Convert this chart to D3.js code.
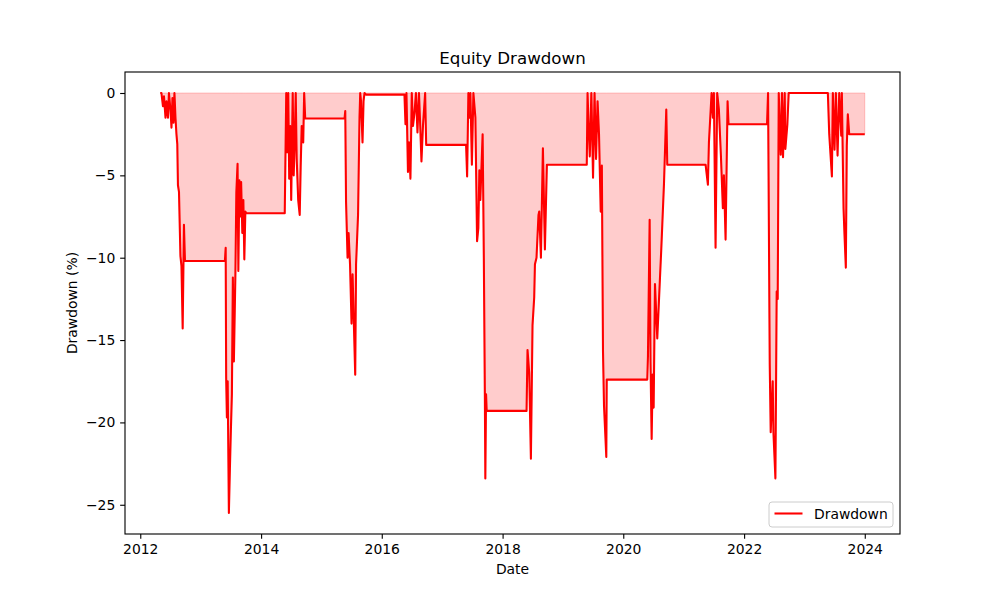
<!DOCTYPE html>
<html>
<head>
<meta charset="utf-8">
<script src="https://cdn.jsdelivr.net/npm/d3@7/dist/d3.min.js"></script>
<style>
  body { margin: 0; background: #fff; }
  text { font-family: "DejaVu Sans", sans-serif; }
</style>
</head>
<body>
<div id="chart"></div>
<script>
// decimal years
const years = [
  2012.330, 2012.350, 2012.375, 2012.392, 2012.417, 2012.433, 2012.458, 2012.474, 2012.499, 2012.516,
  2012.532, 2012.549, 2012.565, 2012.582, 2012.598, 2012.612, 2012.623, 2012.640, 2012.664, 2012.681,
  2012.701, 2012.722, 2012.739, 2013.400, 2013.413, 2013.421, 2013.433, 2013.446, 2013.466, 2013.483,
  2013.499, 2013.516, 2013.532, 2013.549, 2013.574, 2013.590, 2013.610, 2013.623, 2013.640, 2013.656,
  2013.669, 2013.689, 2013.706, 2013.722, 2013.739, 2013.755, 2014.392, 2014.417, 2014.433, 2014.450,
  2014.466, 2014.483, 2014.499, 2014.524, 2014.540, 2014.557, 2014.574, 2014.590, 2014.615, 2014.640,
  2014.656, 2014.673, 2014.698, 2014.714, 2014.731, 2015.383, 2015.395, 2015.408, 2015.433, 2015.450,
  2015.474, 2015.499, 2015.516, 2015.560, 2015.574, 2015.607, 2015.631, 2015.643, 2015.656, 2015.681,
  2015.698, 2015.714, 2015.742, 2016.375, 2016.392, 2016.408, 2016.433, 2016.450, 2016.474, 2016.496,
  2016.516, 2016.541, 2016.565, 2016.590, 2016.615, 2016.631, 2016.656, 2016.681, 2016.717, 2016.734,
  2017.395, 2017.412, 2017.433, 2017.450, 2017.466, 2017.491, 2017.516, 2017.549, 2017.577, 2017.598,
  2017.615, 2017.631, 2017.669, 2017.689, 2017.706, 2017.714, 2017.726, 2017.736, 2018.397, 2018.413,
  2018.441, 2018.469, 2018.496, 2018.524, 2018.536, 2018.562, 2018.595, 2018.607, 2018.635, 2018.668,
  2018.701, 2018.734, 2019.395, 2019.408, 2019.425, 2019.445, 2019.471, 2019.499, 2019.524, 2019.549,
  2019.574, 2019.598, 2019.626, 2019.645, 2019.664, 2019.681, 2019.719, 2019.726, 2020.397, 2020.408,
  2020.436, 2020.450, 2020.469, 2020.486, 2020.502, 2020.524, 2020.562, 2020.607, 2020.628, 2020.645,
  2020.673, 2020.711, 2020.727, 2021.362, 2021.400, 2021.417, 2021.461, 2021.483, 2021.499, 2021.527,
  2021.554, 2021.582, 2021.615, 2021.648, 2021.665, 2021.693, 2021.726, 2021.742, 2022.380, 2022.397,
  2022.420, 2022.425, 2022.441, 2022.474, 2022.486, 2022.519, 2022.540, 2022.557, 2022.574, 2022.607,
  2022.628, 2022.645, 2022.673, 2022.684, 2022.717, 2022.739, 2023.388, 2023.411, 2023.455, 2023.471,
  2023.499, 2023.521, 2023.549, 2023.577, 2023.610, 2023.620, 2023.648, 2023.664, 2023.686, 2023.702,
  2023.719, 2023.742, 2024.000
];

// drawdown in percent, same order as years
const drawdown = [
  0, 0, -0.8, -0.2, -1.5, -0.5, -1.5, 0, -1.0, -2.1,
  -0.3, -1.8, 0, -1.5, -2.5, -3.1, -5.6, -6.0, -9.9, -10.5,
  -14.3, -8.0, -10.2, -10.2, -9.4, -17.3, -19.7, -17.5, -25.5, -22.8,
  -20.5, -18.3, -11.2, -16.3, -11.0, -6.0, -4.3, -10.8, -5.3, -7.5,
  -5.4, -8.5, -6.5, -10.1, -7.2, -7.3, -7.3, 0, -3.6, 0,
  -5.2, -2.0, -6.5, 0, -5.0, -3.0, 0, -4.0, -6.5, -7.4,
  -4.5, -2.0, -3.0, 0, -1.55, -1.55, -1.1, -6.6, -10.0, -8.5,
  -10.4, -14.0, -11.0, -17.1, -10.4, -7.4, -1.5, 0, -0.5, -3.0,
  -0.5, 0, -0.1, -0.1, -1.9, 0, -4.8, -3.0, -5.2, 0,
  -2.0, -1.2, 0, -2.4, 0, -1.5, -4.15, -2.0, 0, -3.15,
  -3.15, -5.07, 0, -1.5, 0, -4.35, 0, -1.5, -9.0, -8.2,
  -4.7, -6.5, -2.5, -10.0, -18.3, -23.4, -18.3, -19.3, -19.3, -15.6,
  -17.0, -22.2, -14.1, -12.4, -10.4, -10.0, -7.4, -7.2, -10.0, -3.35,
  -9.5, -4.36, -4.36, 0, -2.0, -3.85, 0, -5.15, 0, -4.0,
  -0.5, -2.5, -7.2, -4.4, -15.7, -19.0, -22.1, -17.4, -17.4, -16.0,
  -7.7, -16.3, -21.0, -17.1, -19.1, -11.6, -14.9, -11.2, -9.5, -8.0,
  -5.5, -1.0, -4.36, -4.36, -5.57, -3.0, 0, -1.5, 0, -9.4,
  0, -1.0, -3.75, -7.0, -5.0, -8.9, -0.5, -1.9, -1.9, 0,
  -13.7, -16.5, -20.6, -17.5, -20.6, -23.4, -12.05, -12.5, 0, -3.75,
  0, -3.9, 0, -3.4, -1.9, 0, 0, -2.5, -5.07, 0,
  -3.45, 0, -3.8, 0, -2.6, 0, -7.0, -8.6, -10.6, -3.2,
  -1.3, -2.5, -2.5
];

const yTicks = [0, -5, -10, -15, -20, -25];
const xTickYears = [2012, 2014, 2016, 2018, 2020, 2022, 2024];

const chartTitle = 'Equity Drawdown';
const xLabel = 'Date';
const yLabel = 'Drawdown (%)';
const seriesName = 'Drawdown';

// decimal year -> Date
const toDate = (y) => {
  const yr = Math.floor(y);
  const start = new Date(yr, 0, 1);
  const end = new Date(yr + 1, 0, 1);
  return new Date(+start + (y - yr) * (end - start));
};

const data = years.map((y, i) => ({x: toDate(y), y: drawdown[i]}));

const width = 1000;
const height = 600;
const margins = {left: 125, right: 100, top: 72, bottom: 66};
const innerW = width - margins.left - margins.right;
const innerH = height - margins.top - margins.bottom;

// pad the domains by 5% like matplotlib does
const pad = (ext) => {
  const d = (ext[1] - ext[0]) * 0.05;
  return [ext[0] - d, ext[1] + d];
};

const xExt = pad(d3.extent(data, (d) => +d.x));
const yExt = pad(d3.extent(data, (d) => d.y));

const scales = {
  x: d3.scaleTime().domain([new Date(xExt[0]), new Date(xExt[1])]).range([0, innerW]),
  y: d3.scaleLinear().domain(yExt).range([innerH, 0]),
};

const svg = d3.select('#chart')
  .append('svg')
  .attr('width', width)
  .attr('height', height);

svg.append('rect').attr('width', width).attr('height', height).attr('fill', '#fff');

const g = svg.append('g')
  .attr('transform', `translate(${margins.left},${margins.top})`);

// area between line and zero
const area = d3.area()
  .x((d) => scales.x(d.x))
  .y0(scales.y(0))
  .y1((d) => scales.y(d.y));

g.append('path')
  .datum(data)
  .attr('d', area)
  .attr('fill', 'rgba(255,0,0,0.2)')
  .attr('stroke', 'rgba(255,0,0,0.2)')
  .attr('stroke-width', 1);

const line = d3.line()
  .x((d) => scales.x(d.x))
  .y((d) => scales.y(d.y));

g.append('path')
  .datum(data)
  .attr('d', line)
  .attr('fill', 'none')
  .attr('stroke', '#ff0000')
  .attr('stroke-width', 2.08)
  .attr('stroke-linejoin', 'round');

// axes
const fmt = d3.format('d');
const xAxis = g.append('g')
  .attr('transform', `translate(0,${innerH})`)
  .call(d3.axisBottom(scales.x)
    .tickValues(xTickYears.map((y) => new Date(y, 0, 1)))
    .tickFormat(d3.timeFormat('%Y'))
    .tickSizeInner(4.86)
    .tickSizeOuter(0)
    .tickPadding(4.86));

const yAxis = g.append('g')
  .call(d3.axisLeft(scales.y)
    .tickValues(yTicks)
    .tickFormat(fmt)
    .tickSizeInner(4.86)
    .tickSizeOuter(0)
    .tickPadding(4.86));

[xAxis, yAxis].forEach((ax) => {
  ax.select('.domain').remove();
  ax.selectAll('.tick line').attr('stroke', '#000').attr('stroke-width', 1.11);
  ax.selectAll('.tick text')
    .attr('font-family', '"DejaVu Sans", sans-serif')
    .attr('font-size', 13.9)
    .attr('fill', '#000');
});

// frame
g.append('rect')
  .attr('width', innerW)
  .attr('height', innerH)
  .attr('fill', 'none')
  .attr('stroke', '#000')
  .attr('stroke-width', 1.11);

// title and labels
svg.append('text')
  .attr('x', margins.left + innerW / 2)
  .attr('y', margins.top - 8.3)
  .attr('text-anchor', 'middle')
  .attr('font-size', 16.67)
  .text(chartTitle);

svg.append('text')
  .attr('x', margins.left + innerW / 2)
  .attr('y', 574)
  .attr('text-anchor', 'middle')
  .attr('font-size', 13.9)
  .text(xLabel);

svg.append('text')
  .attr('transform', `translate(77,${margins.top + innerH / 2}) rotate(-90)`)
  .attr('text-anchor', 'middle')
  .attr('font-size', 13.9)
  .text(yLabel);

// legend, lower right
const leg = g.append('g')
  .attr('transform', `translate(${innerW - 131},${innerH - 32})`);

leg.append('rect')
  .attr('width', 124)
  .attr('height', 25)
  .attr('rx', 3)
  .attr('fill', 'rgba(255,255,255,0.8)')
  .attr('stroke', '#cccccc')
  .attr('stroke-width', 1);

leg.append('line')
  .attr('x1', 5.5).attr('x2', 33.5)
  .attr('y1', 11.5).attr('y2', 11.5)
  .attr('stroke', '#ff0000')
  .attr('stroke-width', 2.08);

leg.append('text')
  .attr('x', 45)
  .attr('y', 16.5)
  .attr('font-size', 13.9)
  .text(seriesName);
</script>
</body>
</html>
